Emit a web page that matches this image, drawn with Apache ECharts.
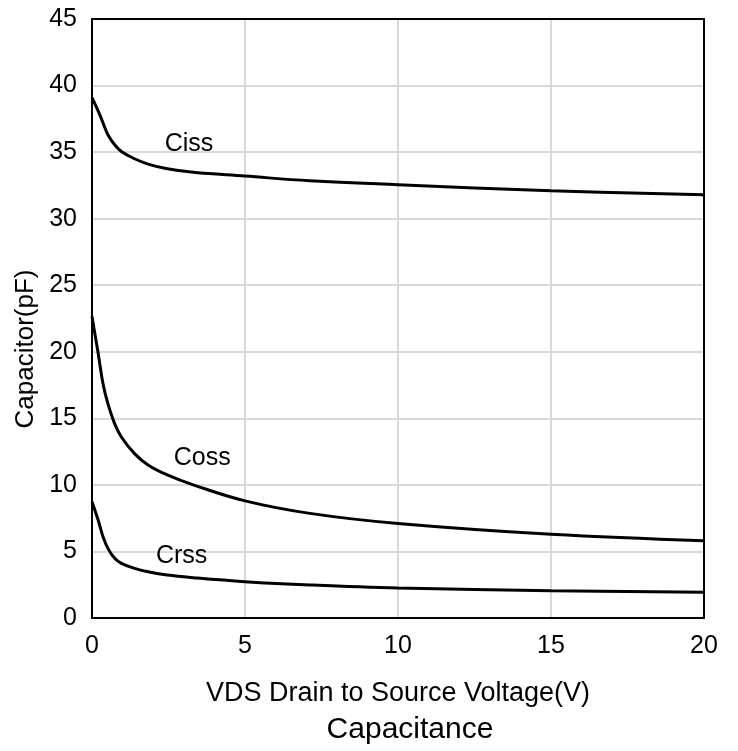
<!DOCTYPE html>
<html><head><meta charset="utf-8">
<script src="https://cdn.jsdelivr.net/npm/echarts@6/dist/echarts.min.js"></script>
<style>html,body{margin:0;padding:0;background:#fff}#c{width:738px;height:751px}</style>
</head><body><div id="c"></div>
<script>
const vds = [0, 0.2, 0.36, 0.52, 0.74, 0.96, 1.39, 1.83, 2.46, 3.31, 5, 7.12, 10, 15, 20];
const ciss = [39.1, 38.1, 37.2, 36.3, 35.55, 35.05, 34.5, 34.1, 33.75, 33.48, 33.2, 32.85, 32.55, 32.1, 31.8];
const coss = [22.65, 19.9, 17.6, 16.1, 14.6, 13.6, 12.35, 11.5, 10.75, 10.0, 8.8, 7.86, 7.1, 6.29, 5.81];
const crss = [8.74, 7.36, 6.1, 5.23, 4.48, 4.1, 3.73, 3.48, 3.23, 3.03, 2.73, 2.48, 2.25, 2.05, 1.93];
const seriesNames = ['Ciss', 'Coss', 'Crss'];
const labelPos = [[3.17, 35.6], [3.6, 12.0], [2.93, 4.67]];
const xTicks = [0, 5, 10, 15, 20];
const yTicks = [0, 5, 10, 15, 20, 25, 30, 35, 40, 45];

const font = 'Liberation Sans, Arial, sans-serif';
const chart = echarts.init(document.getElementById('c'), null, {renderer: 'canvas'});
const pairs = arr => vds.map((x, i) => [x, arr[i]]);
const lineSeries = [ciss, coss, crss].map((arr, i) => ({
  name: seriesNames[i], type: 'line', data: pairs(arr), smooth: 0.4,
  showSymbol: false, symbol: 'none', lineStyle: {color: '#000', width: 3}, z: 3
}));
const boxAxis = {show: true, onZero: false, lineStyle: {color: '#000', width: 2}};
chart.setOption({
  animation: false,
  title: {text: 'Capacitance', left: 405, top: 710, textAlign: 'center',
    textStyle: {fontFamily: font, fontSize: 30, fontWeight: 'normal', color: '#000'}},
  grid: {left: 92, right: 34, top: 19, bottom: 133},
  xAxis: [{type: 'value', min: xTicks[0], max: xTicks[xTicks.length - 1], interval: 5,
    name: 'VDS Drain to Source Voltage(V)', nameLocation: 'middle', nameGap: 62,
    nameTextStyle: {fontFamily: font, fontSize: 27, color: '#000'},
    axisLine: boxAxis, axisTick: {show: false}, z: 1,
    axisLabel: {fontFamily: font, fontSize: 25, color: '#000', margin: 16},
    splitLine: {show: true, lineStyle: {color: '#d9d9d9', width: 2}}},
    {type: 'value', position: 'top', min: 0, max: 20, interval: 5, axisLine: boxAxis, z: 5,
     axisTick: {show: false}, axisLabel: {show: false}, splitLine: {show: false}}],
  yAxis: [{type: 'value', min: yTicks[0], max: yTicks[yTicks.length - 1], interval: 5,
    axisLine: boxAxis, axisTick: {show: false}, z: 1,
    axisLabel: {fontFamily: font, fontSize: 25, color: '#000', margin: 15},
    splitLine: {show: true, lineStyle: {color: '#d9d9d9', width: 2}}},
    {type: 'value', position: 'right', min: 0, max: 45, interval: 5, axisLine: boxAxis, z: 5,
     axisTick: {show: false}, axisLabel: {show: false}, splitLine: {show: false}}],
  graphic: [{type: 'text', x: 26, y: 349, rotation: Math.PI / 2,
    style: {text: 'Capacitor(pF)', fontFamily: font, fontSize: 26, fill: '#000',
      textAlign: 'center', textVerticalAlign: 'middle'}}],
  series: lineSeries.concat([{
    type: 'scatter', symbolSize: 0, silent: true, z: 4, itemStyle: {opacity: 1},
    data: labelPos.map((p, i) => ({value: p, name: seriesNames[i]})),
    label: {show: true, position: 'inside', formatter: '{b}', fontFamily: font, fontSize: 25, color: '#000', opacity: 1}
  }])
});
</script></body></html>
